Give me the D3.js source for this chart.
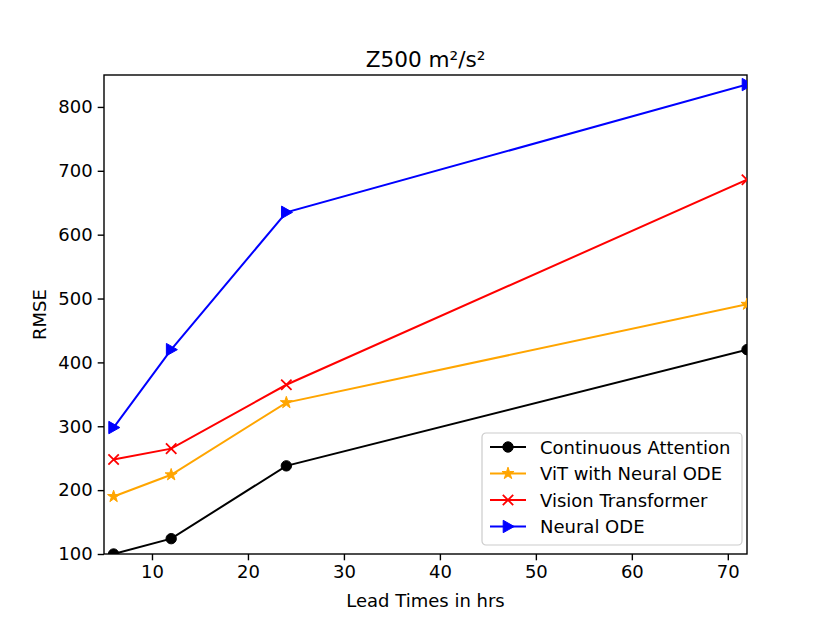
<!DOCTYPE html>
<html>
<head>
<meta charset="utf-8">
<script src="https://cdn.jsdelivr.net/npm/d3@7"></script>
<style>
  body { margin: 0; background: #fff; }
  text { font-family: "DejaVu Sans", sans-serif; fill: #000; }
</style>
</head>
<body>
<svg id="chart" width="830" height="623"></svg>
<script>
// data
var leadTimes = [6, 12, 24, 72];
var seriesNames = ["Continuous Attention", "ViT with Neural ODE", "Vision Transformer", "Neural ODE"];
var continuousAttention = [100, 124, 238, 420];
var vitNeuralOde = [190, 224, 337, 491];
var visionTransformer = [248, 265, 365, 686];
var neuralOde = [298, 420, 635, 835];
var xTicks = [10, 20, 30, 40, 50, 60, 70];
var yTicks = [100, 200, 300, 400, 500, 600, 700, 800];

var colors = ["black", "orange", "red", "blue"];
var markers = ["circle", "star", "x", "tri"];
var allSeries = [continuousAttention, vitNeuralOde, visionTransformer, neuralOde];

var svg = d3.select('#chart');

var mLeft = 104, mRight = 747, mTop = 75, mBottom = 554;

var x = d3.scaleLinear()
	.domain([5, 72])
	.range([mLeft, mRight]);

var y = d3.scaleLinear()
	.domain([100, 850])
	.range([mBottom, mTop]);

svg.append('clipPath').attr('id', 'clip')
	.append('rect')
	.attr('x', mLeft).attr('y', mTop)
	.attr('width', mRight - mLeft).attr('height', mBottom - mTop);

// axes
var xAxis = svg.append('g')
	.attr('transform', 'translate(0,' + mBottom + ')')
	.call(d3.axisBottom(x).tickValues(xTicks).tickSize(6.3).tickPadding(5));

var yAxis = svg.append('g')
	.attr('transform', 'translate(' + mLeft + ',0)')
	.call(d3.axisLeft(y).tickValues(yTicks).tickSize(6.3).tickPadding(5));

[xAxis, yAxis].forEach(function(a) {
	a.select('.domain').remove();
	a.selectAll('line').attr('stroke', '#000').attr('stroke-width', 1.4);
	a.selectAll('text').style('font-size', '18px').style('font-family', '"DejaVu Sans", sans-serif');
});

svg.append('rect')
	.attr('x', mLeft).attr('y', mTop)
	.attr('width', mRight - mLeft).attr('height', mBottom - mTop)
	.attr('fill', 'none').attr('stroke', '#000').attr('stroke-width', 1.4);

function markerPath(type) {
	if (type == "circle") return d3.symbol().type(d3.symbolCircle).size(Math.PI * 5.2 * 5.2)();
	if (type == "star") return d3.symbol().type(d3.symbolStar).size(45)();
	if (type == "x") return "M-5.2,-5.2L5.2,5.2M-5.2,5.2L5.2,-5.2";
	return "M-4.8,-6.2L6.2,0L-4.8,6.2Z";
}

var line = d3.line()
	.x(function(d) { return x(d[0]); })
	.y(function(d) { return y(d[1]); });

var plot = svg.append('g').attr('clip-path', 'url(#clip)');

allSeries.forEach(function(vals, k) {
	var pts = leadTimes.map(function(t, i) { return [t, vals[i]]; });
	plot.append('path')
		.attr('d', line(pts))
		.attr('fill', 'none')
		.attr('stroke', colors[k])
		.attr('stroke-width', 2);
	plot.selectAll('.m' + k)
		.data(pts)
		.enter().append('path')
		.attr('transform', function(d) { return 'translate(' + x(d[0]) + ',' + y(d[1]) + ')'; })
		.attr('d', markerPath(markers[k]))
		.attr('fill', markers[k] == "x" ? 'none' : colors[k])
		.attr('stroke', colors[k])
		.attr('stroke-width', markers[k] == "x" ? 1.8 : 1);
});

// title and labels
svg.append('text')
	.attr('x', (mLeft + mRight) / 2).attr('y', 67)
	.attr('text-anchor', 'middle')
	.style('font-size', '21.6px')
	.text('Z500 m²/s²');

svg.append('text')
	.attr('x', (mLeft + mRight) / 2).attr('y', 607)
	.attr('text-anchor', 'middle')
	.style('font-size', '18px')
	.text('Lead Times in hrs');

svg.append('text')
	.attr('transform', 'translate(46,' + ((mTop + mBottom) / 2) + ') rotate(-90)')
	.attr('text-anchor', 'middle')
	.style('font-size', '18px')
	.text('RMSE');

// legend
var legend = svg.append('g').attr('transform', 'translate(482,433)');
legend.append('rect')
	.attr('width', 260).attr('height', 112)
	.attr('rx', 4)
	.attr('fill', 'rgba(255,255,255,0.8)')
	.attr('stroke', '#cccccc').attr('stroke-width', 1.2);

seriesNames.forEach(function(name, k) {
	var row = legend.append('g').attr('transform', 'translate(0,' + (14 + k * 26.5) + ')');
	row.append('line')
		.attr('x1', 8).attr('x2', 44)
		.attr('stroke', colors[k]).attr('stroke-width', 2);
	row.append('path')
		.attr('transform', 'translate(26,0)')
		.attr('d', markerPath(markers[k]))
		.attr('fill', markers[k] == "x" ? 'none' : colors[k])
		.attr('stroke', colors[k])
		.attr('stroke-width', markers[k] == "x" ? 1.8 : 1);
	row.append('text')
		.attr('x', 58).attr('y', 6.5)
		.style('font-size', '18px')
		.text(name);
});
</script>
</body>
</html>
